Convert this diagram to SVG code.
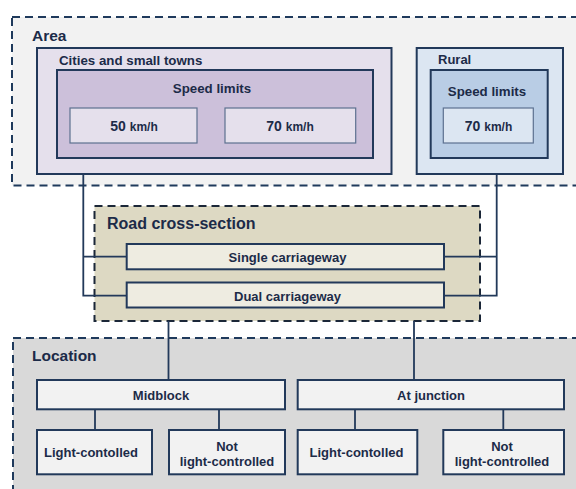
<svg xmlns="http://www.w3.org/2000/svg" width="576" height="489" viewBox="0 0 576 489">
<style>
text{font-family:"Liberation Sans",Arial,sans-serif;font-weight:bold;fill:#1c2b48}
.t13{font-size:13px}
.big{font-size:15.5px}
.c{text-anchor:middle}
.dash{stroke:#1f3a5c;stroke-width:2;stroke-dasharray:8 5}
.box{stroke:#22395a;stroke-width:2}
.thin{stroke:#5d7190;stroke-width:1.2}
.conn{fill:none;stroke:#22395a;stroke-width:1.8}
</style>
<rect width="576" height="489" fill="#ffffff"/>
<g id="area">
<rect x="12" y="17" width="590" height="168.5" fill="#f2f2f2" class="dash"/>
<text class="big" x="32" y="41">Area</text>
</g>
<g id="location">
<rect x="13" y="338" width="590" height="170" fill="#d9d9d9" class="dash"/>
<text class="big" x="32" y="361" font-size="16">Location</text>
</g>
<g id="road-cross-section">
<rect x="94.5" y="206" width="385.5" height="115" fill="#ddd9c3" class="dash" style="stroke:#1b2738"/>
<text class="big" x="107" y="229" style="font-size:16px">Road cross-section</text>
</g>
<g id="connectors">
<path class="conn" d="M83.3 174V295.7H126.7M83.3 256.7H126.7"/>
<path class="conn" d="M496.7 174V295.7H444M496.7 256.7H444"/>
<path class="conn" d="M168.5 321V380M414 321V380"/>
<path class="conn" d="M95 409V430M219 409V430M355 409V430M503.3 409V430"/>
</g>
<g id="cities">
<rect x="37" y="48" width="354.5" height="126" fill="#e5e0ec" class="box"/>
<text class="t13" x="59" y="65" style="font-size:13.3px">Cities and small towns</text>
</g>
<g id="cities-speed-limits">
<rect x="57" y="70" width="316" height="88" fill="#ccc0da" class="box"/>
<text class="t13 c" x="212" y="93" style="font-size:13.3px">Speed limits</text>
</g>
<g id="cities-50">
<rect x="70" y="108" width="127" height="35" fill="#e5e0ec" class="thin"/>
<text class="c" x="134" y="131"><tspan font-size="14">50 </tspan><tspan font-size="12">km/h</tspan></text>
</g>
<g id="cities-70">
<rect x="225" y="108" width="130.7" height="35" fill="#e5e0ec" class="thin"/>
<text class="c" x="290" y="131"><tspan font-size="14">70 </tspan><tspan font-size="12">km/h</tspan></text>
</g>
<g id="rural">
<rect x="416.7" y="48" width="146.3" height="126" fill="#dce6f2" class="box"/>
<text class="t13" x="438" y="64">Rural</text>
</g>
<g id="rural-speed-limits">
<rect x="430.7" y="70" width="117" height="88" fill="#b9cde5" class="box"/>
<text class="t13 c" x="487" y="96" style="font-size:13.3px">Speed limits</text>
</g>
<g id="rural-70">
<rect x="443.3" y="108" width="90" height="35" fill="#dce6f2" class="thin"/>
<text class="c" x="488.5" y="131"><tspan font-size="14">70 </tspan><tspan font-size="12">km/h</tspan></text>
</g>
<g id="single">
<rect x="126.7" y="244" width="317.3" height="25.3" fill="#eeece1" class="box"/>
<text class="t13 c" x="287.5" y="261.5">Single carriageway</text>
</g>
<g id="dual">
<rect x="126.7" y="282.5" width="317.3" height="25" fill="#eeece1" class="box"/>
<text class="t13 c" x="287.5" y="300.5">Dual carriageway</text>
</g>
<g id="midblock">
<rect x="37" y="380" width="248" height="29.3" fill="#f2f2f2" class="box"/>
<text class="t13 c" x="161" y="399.5">Midblock</text>
</g>
<g id="junction">
<rect x="297.7" y="380" width="266.3" height="29.3" fill="#f2f2f2" class="box"/>
<text class="t13 c" x="431" y="399.5">At junction</text>
</g>
<g id="mid-light">
<rect x="37" y="430" width="115" height="44.3" fill="#f2f2f2" class="box"/>
<text class="t13 c" x="91" y="457">Light-contolled</text>
</g>
<g id="mid-not-light">
<rect x="169" y="430" width="116" height="44.3" fill="#f2f2f2" class="box"/>
<text class="t13 c" x="227" y="450.5">Not</text>
<text class="t13 c" x="227" y="466">light-controlled</text>
</g>
<g id="jn-light">
<rect x="297.7" y="430" width="119.6" height="44.3" fill="#f2f2f2" class="box"/>
<text class="t13 c" x="356.5" y="457">Light-contolled</text>
</g>
<g id="jn-not-light">
<rect x="443.3" y="430" width="120.7" height="44.3" fill="#f2f2f2" class="box"/>
<text class="t13 c" x="502" y="450.5">Not</text>
<text class="t13 c" x="502" y="466">light-controlled</text>
</g>
</svg>
